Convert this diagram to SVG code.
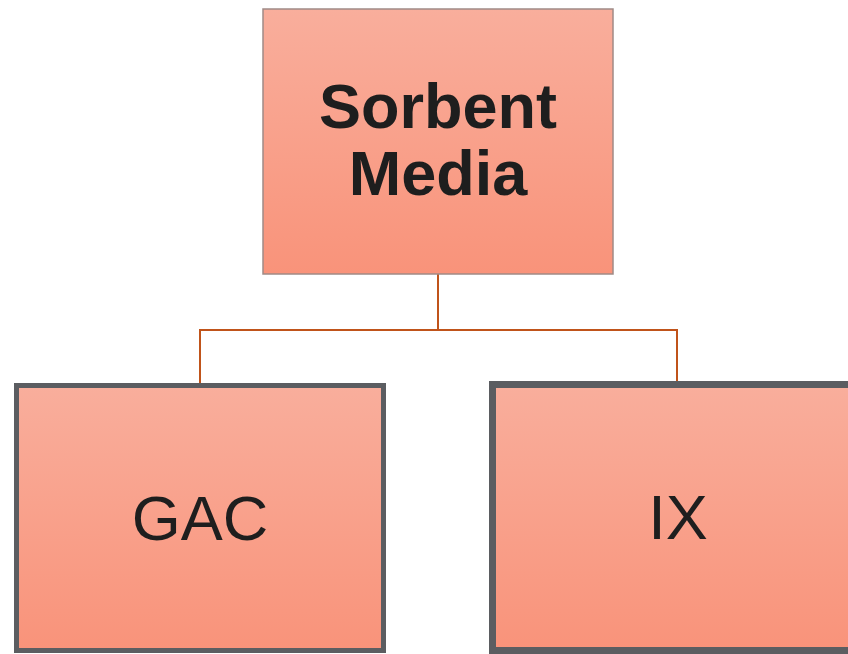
<svg xmlns="http://www.w3.org/2000/svg" width="848" height="654" viewBox="0 0 848 654">
  <defs>
    <linearGradient id="fill" x1="0" y1="0" x2="0" y2="1">
      <stop offset="0" stop-color="#f9ae9c"/>
      <stop offset="1" stop-color="#f9937a"/>
    </linearGradient>
  </defs>
  <style>
    .box { fill: url(#fill); }
    .top { stroke: #a08a86; stroke-width: 1.5; }
    .child { stroke: #5b5d61; }
    .label { font-family: "Liberation Sans", Arial, sans-serif; fill: #1e1e1e; text-anchor: middle; font-size: 63px; }
    .bold { font-weight: bold; }
    .wire { fill: none; stroke: #c0531a; stroke-width: 2; }
  </style>
  <rect width="848" height="654" fill="#ffffff"/>
  <g id="connectors">
    <path class="wire" d="M438 274 V330 M200 383 V330 H677 V382"/>
  </g>
  <g id="sorbent-media">
    <rect class="box top" x="263" y="9" width="350" height="265"/>
    <text class="label bold" x="438" y="128">Sorbent</text>
    <text class="label bold" x="438" y="195">Media</text>
  </g>
  <g id="gac">
    <rect class="box child" x="16.5" y="385.5" width="367" height="265" stroke-width="5"/>
    <text class="label" x="200" y="540">GAC</text>
  </g>
  <g id="ix">
    <rect class="box child" x="492.5" y="384.5" width="370" height="266" stroke-width="7"/>
    <text class="label" x="678" y="539">IX</text>
  </g>
</svg>
